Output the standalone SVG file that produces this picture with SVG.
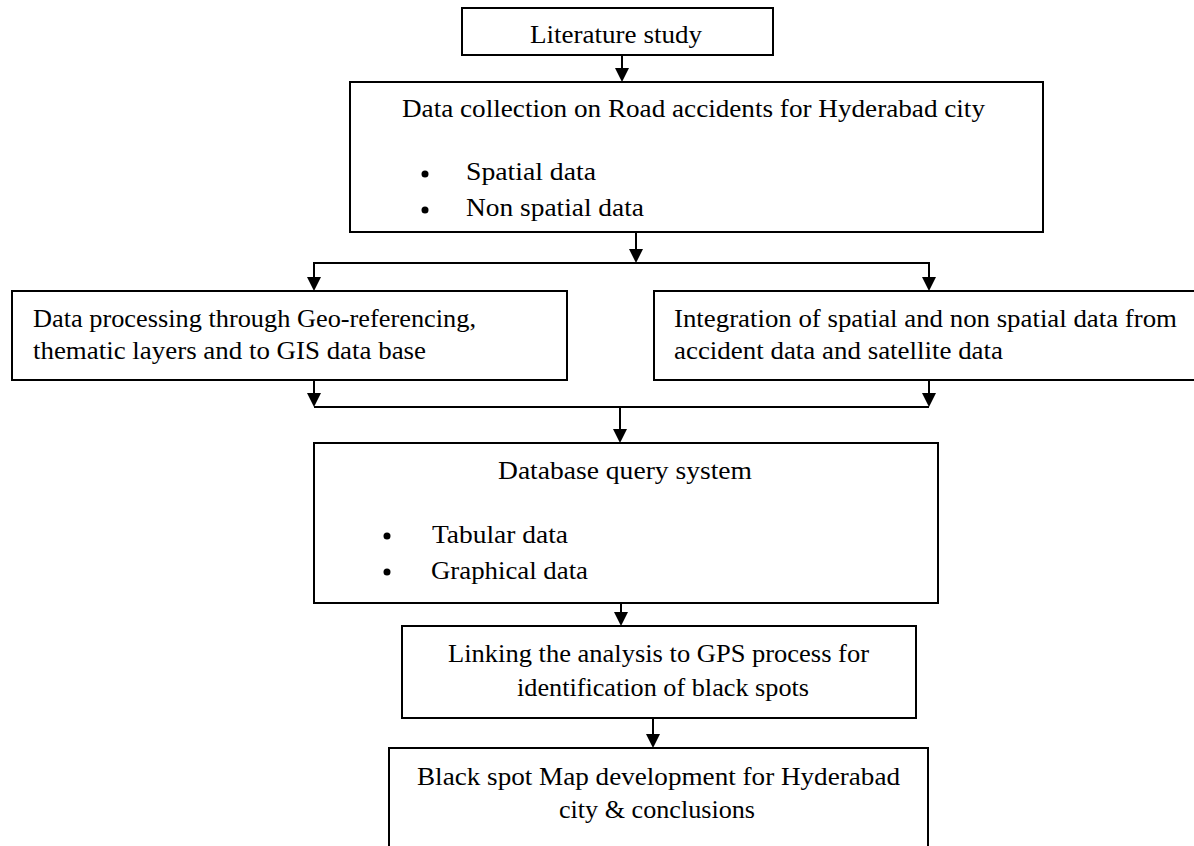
<svg xmlns="http://www.w3.org/2000/svg" width="1194" height="846" viewBox="0 0 1194 846">
<style>
.box{fill:#fff;stroke:#000;stroke-width:2}
.t{font-family:"Liberation Serif","Times New Roman",serif;font-size:25px;fill:#000}
.c{stroke:#000;stroke-width:2;fill:none}
</style>
<rect width="1194" height="846" fill="#fff"/>
<g id="connectors">
<line class="c" x1="622" y1="55" x2="622" y2="68"/><path d="M615,68 L629,68 L622,82 Z"/>
<line class="c" x1="636" y1="232" x2="636" y2="249"/><path d="M629,249 L643,249 L636,263 Z"/>
<polyline class="c" points="314,277 314,263 929,263 929,277"/>
<path d="M307,277 L321,277 L314,291 Z"/><path d="M922,277 L936,277 L929,291 Z"/>
<line class="c" x1="314" y1="380" x2="314" y2="393"/><path d="M307,393 L321,393 L314,407 Z"/>
<line class="c" x1="929" y1="380" x2="929" y2="393"/><path d="M922,393 L936,393 L929,407 Z"/>
<line class="c" x1="314" y1="407" x2="929" y2="407"/>
<line class="c" x1="620" y1="407" x2="620" y2="429"/><path d="M613,429 L627,429 L620,443 Z"/>
<line class="c" x1="621" y1="603" x2="621" y2="612"/><path d="M614,612 L628,612 L621,626 Z"/>
<line class="c" x1="653" y1="718" x2="653" y2="734"/><path d="M646,734 L660,734 L653,748 Z"/>
</g>
<g id="n1">
<rect class="box" x="462" y="8" width="311" height="47"/>
<text class="t" x="530" y="43" textLength="172" lengthAdjust="spacingAndGlyphs">Literature study</text>
</g>
<g id="n2">
<rect class="box" x="350" y="82" width="693" height="150"/>
<text class="t" x="402" y="117" textLength="583" lengthAdjust="spacingAndGlyphs">Data collection on Road accidents for Hyderabad city</text>
<circle cx="425" cy="174" r="3.5"/>
<circle cx="425" cy="210" r="3.5"/>
<text class="t" x="466" y="180" textLength="130" lengthAdjust="spacingAndGlyphs">Spatial data</text>
<text class="t" x="466" y="216" textLength="178" lengthAdjust="spacingAndGlyphs">Non spatial data</text>
</g>
<g id="n3">
<rect class="box" x="12" y="291" width="555" height="89"/>
<text class="t" x="33" y="327" textLength="443" lengthAdjust="spacingAndGlyphs">Data processing through Geo-referencing,</text>
<text class="t" x="33" y="359" textLength="393" lengthAdjust="spacingAndGlyphs">thematic layers and to GIS  data base</text>
</g>
<g id="n4">
<rect class="box" x="654" y="291" width="545" height="89"/>
<text class="t" x="674" y="327" textLength="503" lengthAdjust="spacingAndGlyphs">Integration of spatial and non spatial data from</text>
<text class="t" x="674" y="359" textLength="329" lengthAdjust="spacingAndGlyphs">accident data and satellite data</text>
</g>
<g id="n5">
<rect class="box" x="314" y="443" width="624" height="160"/>
<text class="t" x="498" y="479" textLength="254" lengthAdjust="spacingAndGlyphs">Database query system</text>
<circle cx="387" cy="536" r="3.5"/>
<circle cx="387" cy="572" r="3.5"/>
<text class="t" x="432" y="543" textLength="136" lengthAdjust="spacingAndGlyphs">Tabular data</text>
<text class="t" x="431" y="579" textLength="157" lengthAdjust="spacingAndGlyphs">Graphical data</text>
</g>
<g id="n6">
<rect class="box" x="402" y="626" width="514" height="92"/>
<text class="t" x="448" y="662" textLength="421" lengthAdjust="spacingAndGlyphs">Linking the analysis to GPS process for</text>
<text class="t" x="517" y="696" textLength="292" lengthAdjust="spacingAndGlyphs">identification of black spots</text>
</g>
<g id="n7">
<rect class="box" x="389" y="748" width="539" height="110"/>
<text class="t" x="417" y="785" textLength="483" lengthAdjust="spacingAndGlyphs">Black spot Map development for Hyderabad</text>
<text class="t" x="559" y="818" textLength="196" lengthAdjust="spacingAndGlyphs">city &amp; conclusions</text>
</g>
</svg>
